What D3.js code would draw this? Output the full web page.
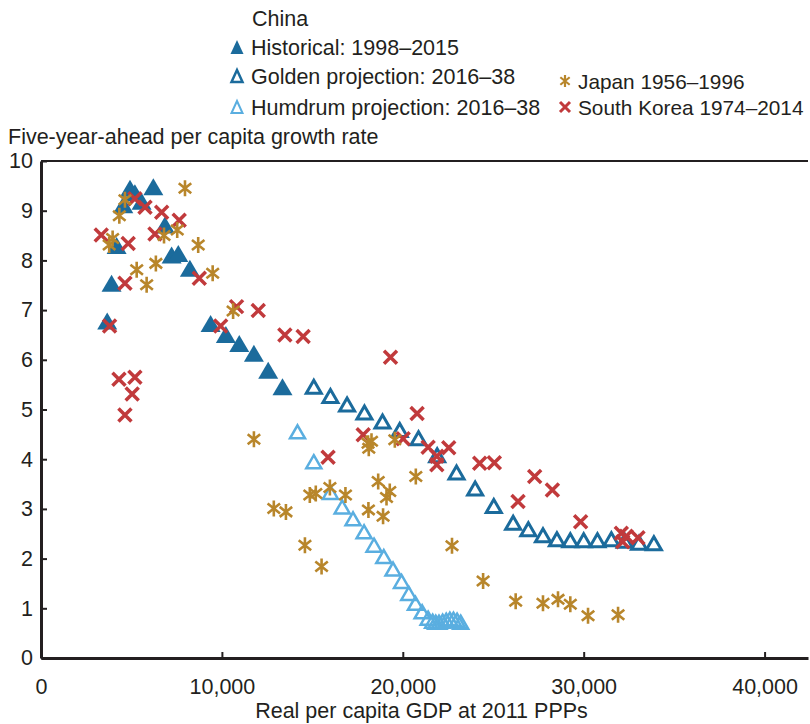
<!DOCTYPE html>
<html>
<head>
<meta charset="utf-8">
<script src="https://cdn.jsdelivr.net/npm/d3@7"></script>
<style>
  html, body { margin: 0; padding: 0; background: #fff; }
  svg { display: block; }
  text { font-family: "Liberation Sans", Arial, sans-serif; fill: #231f20; }
</style>
</head>
<body>
<svg id="chart" width="810" height="724"></svg>
<script>
// China, historical 1998–2015: real per capita GDP (2011 PPP $) and five-year-ahead growth (%)
const chinaHistGdp = [3660, 3900, 4180, 4550, 4920, 5190, 5560, 6210, 6850, 7220, 7590, 8230, 9375, 10220, 10960, 11770, 12560, 13350];
const chinaHistGrowth = [6.78, 7.54, 8.30, 9.12, 9.45, 9.36, 9.19, 9.48, 8.71, 8.11, 8.14, 7.84, 6.73, 6.51, 6.33, 6.13, 5.79, 5.46];

// China, golden projection 2016–38
const goldenGdp = [15080, 16000, 16920, 17880, 18880, 19830, 20870, 21900, 22970, 24000, 25030, 26100, 26940, 27750, 28520, 29260, 30000, 30760, 31530, 32270, 33060, 33880];
const goldenGrowth = [5.46, 5.27, 5.10, 4.94, 4.76, 4.59, 4.42, 4.08, 3.73, 3.41, 3.06, 2.72, 2.59, 2.47, 2.39, 2.37, 2.37, 2.37, 2.39, 2.36, 2.32, 2.31];

// China, humdrum projection 2016–38
const humdrumGdp = [14180, 15080, 16000, 16650, 17250, 17860, 18410, 18950, 19460, 19930, 20330, 20700, 21070, 21400, 21650, 21820, 22000, 22200, 22400, 22600, 22800, 23000, 23200];
const humdrumGrowth = [4.55, 3.95, 3.33, 3.04, 2.80, 2.54, 2.27, 2.04, 1.79, 1.54, 1.30, 1.10, 0.93, 0.80, 0.74, 0.72, 0.72, 0.74, 0.76, 0.78, 0.78, 0.76, 0.72];

// Japan 1956–1996
const japanGdp = [3770, 3960, 4330, 4640, 5290, 5840, 6350, 6800, 7530, 7960, 8690, 9490, 10620, 11770, 12870, 13540, 14590, 14860, 15190, 15510, 15970, 16830, 18080, 18270, 18120, 18100, 18640, 18910, 19100, 19280, 19560, 20720, 22720, 24440, 26240, 27750, 28580, 29260, 30240, 31900];
const japanGrowth = [8.31, 8.44, 8.90, 9.22, 7.81, 7.51, 7.94, 8.50, 8.61, 9.45, 8.31, 7.74, 6.98, 4.40, 3.01, 2.94, 2.27, 3.28, 3.31, 1.84, 3.43, 3.28, 4.32, 4.36, 4.22, 2.98, 3.55, 2.85, 3.23, 3.35, 4.39, 3.65, 2.26, 1.55, 1.14, 1.10, 1.18, 1.08, 0.85, 0.87];

// South Korea 1974–2014
const koreaGdp = [3330, 3790, 4310, 4640, 4640, 4820, 5040, 5190, 5190, 5750, 6300, 6670, 7640, 8750, 9930, 10810, 12010, 13480, 14490, 15870, 17810, 19320, 20020, 20790, 21400, 21880, 21880, 22540, 24250, 25060, 26370, 27290, 28270, 29830, 32080, 32350, 32160, 33000];
const koreaGrowth = [8.51, 6.68, 5.61, 4.89, 7.54, 8.34, 5.31, 5.65, 9.24, 9.07, 8.53, 8.97, 8.81, 7.64, 6.68, 7.07, 6.99, 6.50, 6.47, 4.04, 4.49, 6.05, 4.41, 4.92, 4.24, 4.06, 3.89, 4.23, 3.92, 3.93, 3.15, 3.65, 3.38, 2.74, 2.51, 2.45, 2.34, 2.42];

// Axis ticks
const xTicks = [0, 10000, 20000, 30000, 40000];
const yTicks = [0, 1, 2, 3, 4, 5, 6, 7, 8, 9, 10];

const colors = {
  dark: "#1b6b9c",
  light: "#5aaee0",
  japan: "#b8862b",
  korea: "#c13a3c",
  ink: "#231f20"
};
const fontSize = 21.5;

const svg = d3.select("#chart");
const frame = { left: 41, right: 808, top: 161, bottom: 658 };

const x = d3.scaleLinear().domain([0, 42400]).range([frame.left, frame.right]);
const y = d3.scaleLinear().domain([0, 10]).range([frame.bottom, frame.top]);

const zip = (xs, ys) => xs.map((v, i) => ({ gdp: v, g: ys[i] }));

// Marker shapes (centered on the data point)
function triPath(w, h) {
  return `M0,${-h / 2}L${w / 2},${h / 2}L${-w / 2},${h / 2}Z`;
}
function xPath(s) {
  return `M${-s},${-s}L${s},${s}M${-s},${s}L${s},${-s}`;
}
function starPath(s) {
  const d = s * 0.78;
  return `M0,${-s}L0,${s}M${-d},${-d * 0.8}L${d},${d * 0.8}M${-d},${d * 0.8}L${d},${-d * 0.8}`;
}

// Frame: top rule
svg.append("line")
  .attr("x1", frame.left).attr("x2", frame.right)
  .attr("y1", frame.top).attr("y2", frame.top)
  .attr("stroke", colors.ink).attr("stroke-width", 2);

// Y axis
const yAxis = svg.append("g")
  .attr("transform", `translate(${frame.left},0)`)
  .call(d3.axisLeft(y).tickValues(yTicks).tickFormat(d3.format("d"))
    .tickSizeInner(-6).tickSizeOuter(0).tickPadding(8));
yAxis.select(".domain").attr("stroke", colors.ink).attr("stroke-width", 3);
yAxis.selectAll(".tick line").attr("stroke", colors.ink).attr("stroke-width", 2);
yAxis.selectAll(".tick text").attr("font-size", fontSize).attr("fill", colors.ink)
  .attr("font-family", "Liberation Sans, Arial, sans-serif");

// X axis
const xAxis = svg.append("g")
  .attr("transform", `translate(0,${frame.bottom})`)
  .call(d3.axisBottom(x).tickValues(xTicks).tickFormat(d3.format(","))
    .tickSizeInner(-6).tickSizeOuter(0).tickPadding(21));
xAxis.select(".domain").attr("stroke", colors.ink).attr("stroke-width", 3);
xAxis.selectAll(".tick line").attr("stroke", colors.ink).attr("stroke-width", 2);
xAxis.selectAll(".tick text").attr("font-size", fontSize).attr("fill", colors.ink)
  .attr("font-family", "Liberation Sans, Arial, sans-serif");

// Axis titles
svg.append("text").attr("x", 8).attr("y", 144)
  .attr("font-size", fontSize).text("Five-year-ahead per capita growth rate");
svg.append("text").attr("x", (frame.left + frame.right) / 2 - 3).attr("y", 718)
  .attr("text-anchor", "middle").attr("font-size", fontSize)
  .text("Real per capita GDP at 2011 PPPs");

const plot = svg.append("g");

// China historical: filled triangles
plot.append("g").selectAll("path").data(zip(chinaHistGdp, chinaHistGrowth)).join("path")
  .attr("transform", d => `translate(${x(d.gdp)},${y(d.g)})`)
  .attr("d", triPath(20, 17)).attr("fill", colors.dark);

// China golden projection: open dark triangles
plot.append("g").selectAll("path").data(zip(goldenGdp, goldenGrowth)).join("path")
  .attr("transform", d => `translate(${x(d.gdp)},${y(d.g)})`)
  .attr("d", triPath(15, 13)).attr("fill", "none")
  .attr("stroke", colors.dark).attr("stroke-width", 3).attr("stroke-linejoin", "miter");

// China humdrum projection: open light triangles
plot.append("g").selectAll("path").data(zip(humdrumGdp, humdrumGrowth)).join("path")
  .attr("transform", d => `translate(${x(d.gdp)},${y(d.g)})`)
  .attr("d", triPath(15, 13)).attr("fill", "none")
  .attr("stroke", colors.light).attr("stroke-width", 2.5);

// South Korea: crosses
plot.append("g").selectAll("path").data(zip(koreaGdp, koreaGrowth)).join("path")
  .attr("transform", d => `translate(${x(d.gdp)},${y(d.g)})`)
  .attr("d", xPath(6.5)).attr("fill", "none")
  .attr("stroke", colors.korea).attr("stroke-width", 3.5);

// Japan: asterisks
plot.append("g").selectAll("path").data(zip(japanGdp, japanGrowth)).join("path")
  .attr("transform", d => `translate(${x(d.gdp)},${y(d.g)})`)
  .attr("d", starPath(8)).attr("fill", "none")
  .attr("stroke", colors.japan).attr("stroke-width", 2.6);

// Legend
const legend = svg.append("g");
legend.append("text").attr("x", 252).attr("y", 26).attr("font-size", fontSize).text("China");

const legendItems = [
  { label: "Historical: 1998–2015", lx: 237, ly: 47, kind: "hist", fs: fontSize, dx: 14 },
  { label: "Golden projection: 2016–38", lx: 237, ly: 76, kind: "golden", fs: fontSize, dx: 14 },
  { label: "Humdrum projection: 2016–38", lx: 237, ly: 107, kind: "humdrum", fs: fontSize, dx: 14 },
  { label: "Japan 1956–1996", lx: 565, ly: 81, kind: "japan", fs: 20.8, dx: 13 },
  { label: "South Korea 1974–2014", lx: 565, ly: 107, kind: "korea", fs: 20.8, dx: 13 }
];

legendItems.forEach(it => {
  const g = legend.append("g").attr("transform", `translate(${it.lx},${it.ly})`);
  if (it.kind === "hist") {
    g.append("path").attr("d", triPath(13, 14)).attr("fill", colors.dark);
  } else if (it.kind === "golden") {
    g.append("path").attr("d", triPath(11, 12)).attr("fill", "none")
      .attr("stroke", colors.dark).attr("stroke-width", 2.5);
  } else if (it.kind === "humdrum") {
    g.append("path").attr("d", triPath(11, 12)).attr("fill", "none")
      .attr("stroke", colors.light).attr("stroke-width", 2);
  } else if (it.kind === "japan") {
    g.append("path").attr("d", starPath(6)).attr("fill", "none")
      .attr("stroke", colors.japan).attr("stroke-width", 2.2);
  } else {
    g.append("path").attr("d", xPath(5)).attr("fill", "none")
      .attr("stroke", colors.korea).attr("stroke-width", 3);
  }
  g.append("text").attr("x", it.dx).attr("y", 7.5).attr("font-size", it.fs).text(it.label);
});
</script>
</body>
</html>
